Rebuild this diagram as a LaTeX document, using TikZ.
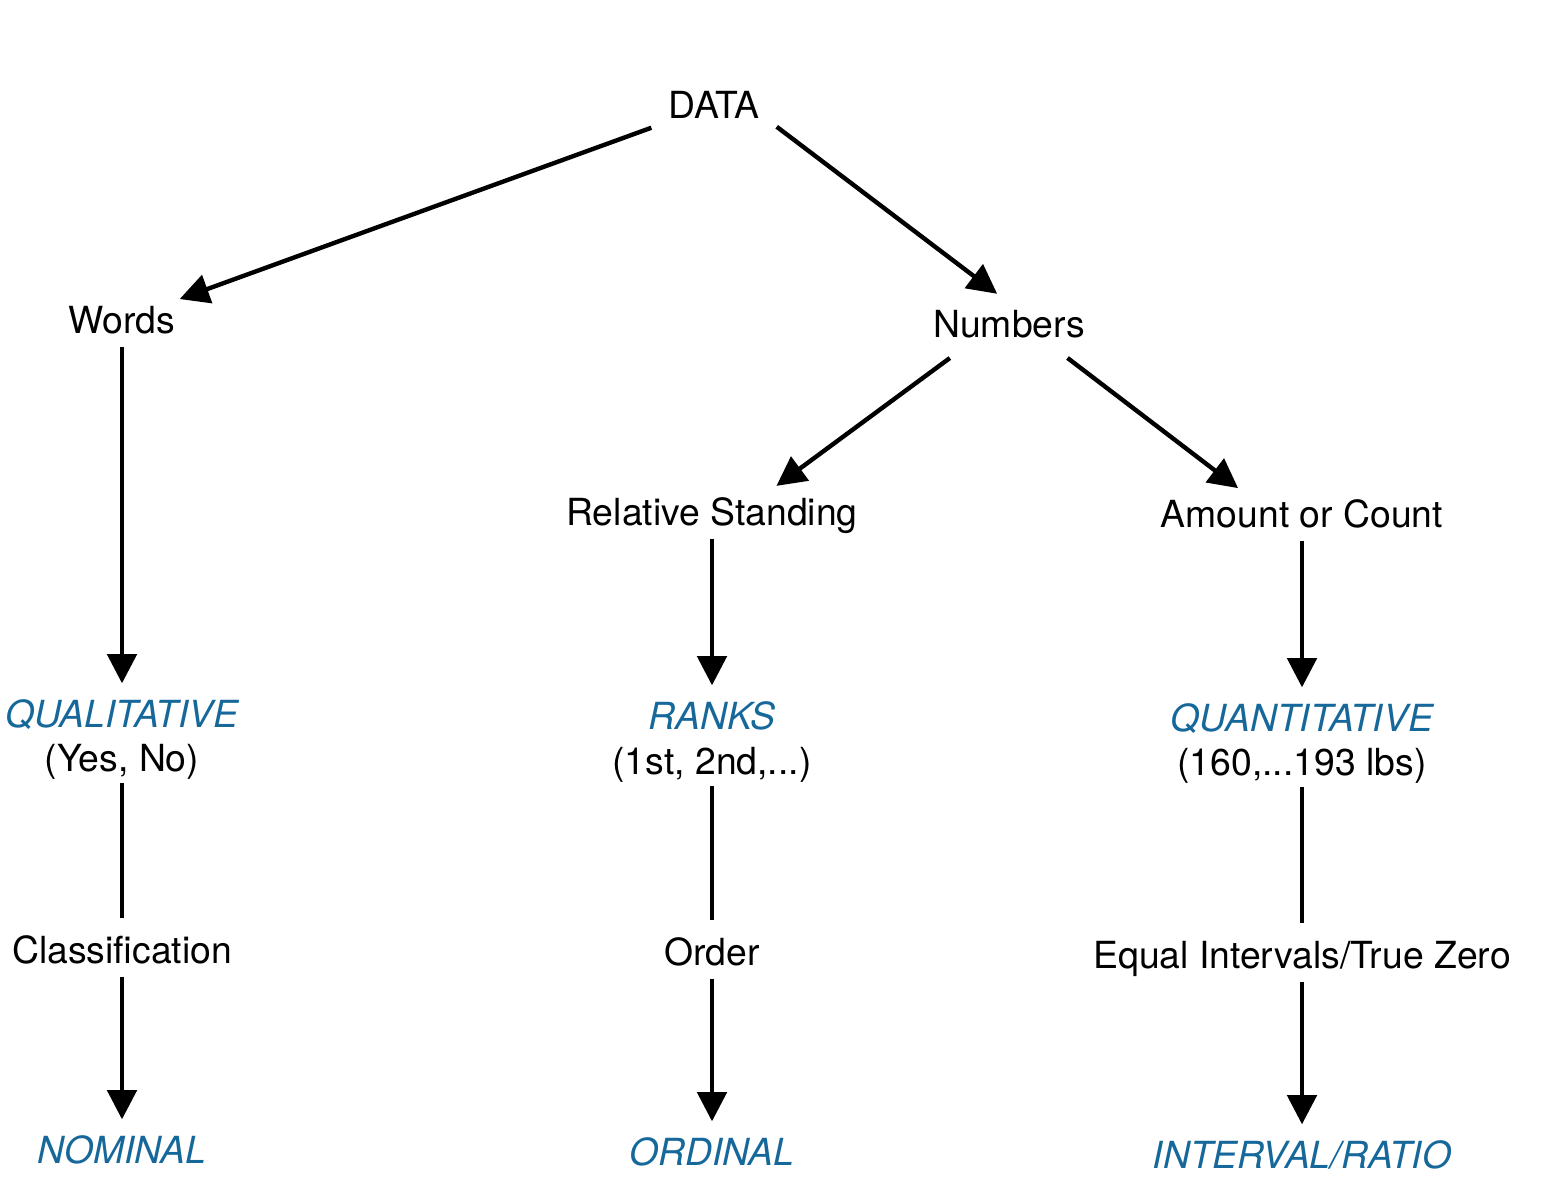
\documentclass[tikz,border=0pt]{standalone}
\usepackage{fontspec}
\setmainfont{TeX Gyre Heros}
\usetikzlibrary{arrows.meta,calc}
\definecolor{catblue}{RGB}{22,104,154}
\begin{document}
\begin{tikzpicture}[x=0.75pt,y=-0.75pt,
  lbl/.style={inner sep=0pt, text height=20pt, text depth=0pt, font=\fontsize{28}{32}\selectfont},
  cat/.style={lbl, text=catblue, font=\fontsize{28}{32}\selectfont\itshape},
  arr/.style={line width=3.3pt, -{Triangle[length=22pt,width=22pt]}},
  link/.style={line width=3.3pt},
  vin/.style={shorten <=20pt, shorten >=23pt},
  vlk/.style={shorten <=19pt, shorten >=24pt}
]
\useasboundingbox (0,0) rectangle (1566,1196);
% nodes
\node[lbl] (data) at (714,105) {DATA};
\node[lbl] (words) at (122,320) {Words};
\node[lbl] (numbers) at (1009,324) {Numbers};
\node[lbl] (rel) at (712,512) {Relative Standing};
\node[lbl] (amount) at (1302,514) {Amount or Count};
\node[cat] (qual) at (122,714) {QUALITATIVE};
\node[lbl] (yesno) at (122,758) {(Yes, No)};
\node[cat] (ranks) at (712,716) {RANKS};
\node[lbl] (first) at (712,761) {(1st, 2nd,...)};
\node[cat] (quant) at (1302,718) {QUANTITATIVE};
\node[lbl] (lbs) at (1302,762) {(160,...193 lbs)};
\node[lbl] (class) at (122,950) {Classification};
\node[lbl] (order) at (712,952) {Order};
\node[lbl] (equal) at (1302,955) {Equal Intervals/True Zero};
\node[cat] (nominal) at (122,1150) {NOMINAL};
\node[cat] (ordinal) at (712,1152) {ORDINAL};
\node[cat] (interval) at (1302,1155) {INTERVAL/RATIO};
% diagonal arrows
\draw[arr, shorten <=50pt, shorten >=46pt] (data.center) -- (words.center);
\draw[arr, shorten <=27pt, shorten >=37.5pt] ($(data.center)+(34,0)$) -- ($(numbers.center)+(28,0)$);
\draw[arr, shorten <=43pt, shorten >=33pt] ($(numbers.center)+(-13,0)$) -- ($(rel.center)+(29,0)$);
\draw[arr, shorten <=42pt, shorten >=32pt] ($(numbers.center)+(14,0)$) -- ($(amount.center)+(-30,0)$);
% vertical arrows
\draw[arr, vin] (words.center) -- (qual.center);
\draw[arr, vin] (rel.center) -- (ranks.center);
\draw[arr, vin] (amount.center) -- (quant.center);
\draw[link, vlk] (yesno.center) -- (class.center);
\draw[link, vlk] (first.center) -- (order.center);
\draw[link, vlk] (lbs.center) -- (equal.center);
\draw[arr, vin] (class.center) -- (nominal.center);
\draw[arr, vin] (order.center) -- (ordinal.center);
\draw[arr, vin] (equal.center) -- (interval.center);
\end{tikzpicture}
\end{document}
